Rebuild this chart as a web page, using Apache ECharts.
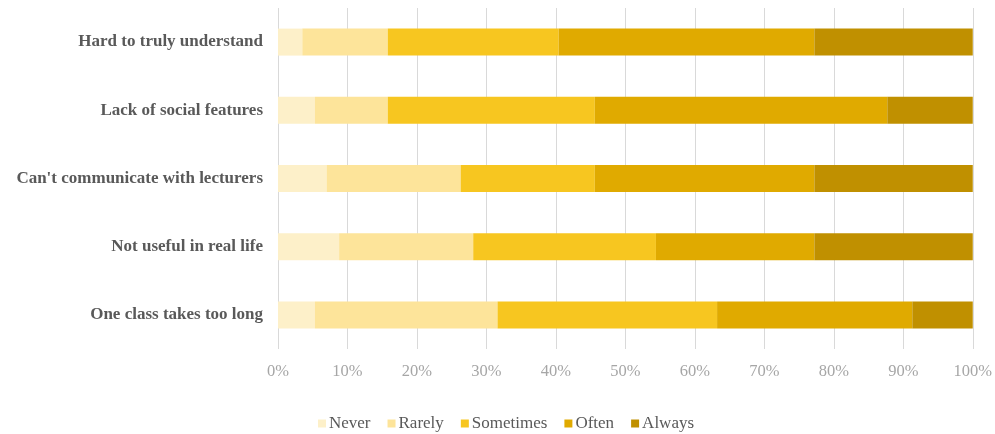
<!DOCTYPE html>
<html>
<head>
<meta charset="utf-8">
<script src="https://cdn.jsdelivr.net/npm/echarts@6/dist/echarts.min.js"></script>
<style>
  html, body { margin: 0; padding: 0; background: #fff; }
  #chart { width: 995px; height: 434px; }
</style>
</head>
<body>
<div id="chart"></div>
<script>
// Survey items, listed bottom to top as the category axis draws them
const categories = [
  'One class takes too long',
  'Not useful in real life',
  "Can't communicate with lecturers",
  'Lack of social features',
  'Hard to truly understand'
];

// Share of responses (%) per frequency level, same order as categories
const never     = [5.3, 8.8, 7.0, 5.3, 3.5];
const rarely    = [26.3, 19.3, 19.3, 10.5, 12.3];
const sometimes = [31.6, 26.3, 19.3, 29.8, 24.6];
const often     = [28.1, 22.8, 31.6, 42.1, 36.8];
const always    = [8.7, 22.8, 22.8, 12.3, 22.8];

const seriesNames = ['Never', 'Rarely', 'Sometimes', 'Often', 'Always'];
const seriesValues = [never, rarely, sometimes, often, always];
const seriesColors = ['#FDF0C9', '#FDE49A', '#F7C620', '#E0AA00', '#C09000'];

const tickValues = [0, 10, 20, 30, 40, 50, 60, 70, 80, 90, 100];

const serif = '"Liberation Serif", "DejaVu Serif", serif';

const chart = echarts.init(document.getElementById('chart'));
chart.setOption({
  animation: false,
  backgroundColor: '#ffffff',
  grid: { left: 278, right: 22, top: 8, bottom: 85, containLabel: false },
  legend: {
    data: seriesNames,
    top: 410,
    left: 313,
    itemWidth: 8,
    itemHeight: 8,
    itemGap: 17,
    icon: 'rect',
    textStyle: { fontFamily: serif, fontSize: 17, color: '#595959', padding: [0, 0, 0, -2] }
  },
  xAxis: {
    type: 'value',
    min: 0,
    max: 100,
    interval: 10,
    axisLine: { show: false },
    axisTick: { show: false },
    splitLine: { show: true, lineStyle: { color: '#D9D9D9', width: 1 } },
    axisLabel: {
      margin: 14,
      fontFamily: serif,
      fontSize: 16.5,
      color: '#A6A6A6',
      formatter: v => tickValues.includes(v) ? v + '%' : ''
    }
  },
  yAxis: {
    type: 'category',
    data: categories,
    axisLine: { show: false },
    axisTick: { show: false },
    splitLine: { show: false },
    axisLabel: {
      margin: 15,
      fontFamily: serif,
      fontSize: 17,
      fontWeight: 'bold',
      color: '#595959'
    }
  },
  series: seriesNames.map((name, i) => ({
    name: name,
    type: 'bar',
    stack: 'total',
    barWidth: 27,
    itemStyle: { color: seriesColors[i] },
    data: seriesValues[i]
  }))
});
</script>
</body>
</html>
